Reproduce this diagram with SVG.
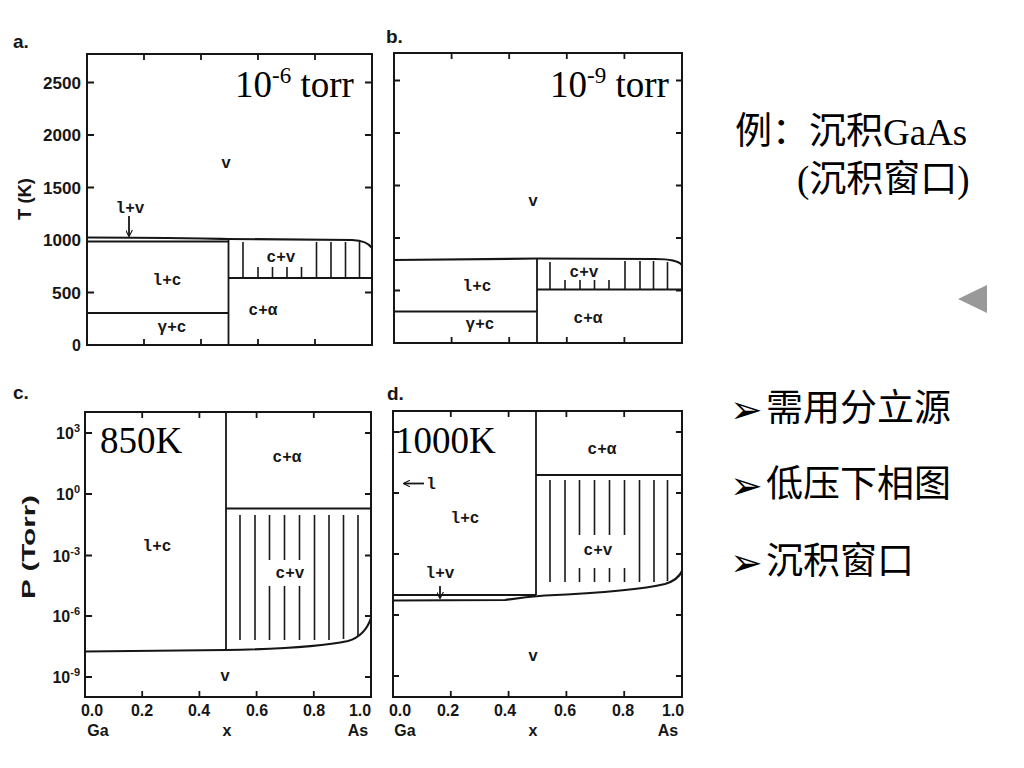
<svg xmlns="http://www.w3.org/2000/svg" width="1024" height="768" viewBox="0 0 1024 768">
<defs>
<style>
.ax{fill:none;stroke:#161616;stroke-width:2}
.tick{stroke:#161616;stroke-width:1.8}
.ln{fill:none;stroke:#161616;stroke-width:1.8}
.cv{fill:none;stroke:#161616;stroke-width:2.2}
.hat{stroke:#1a1a1a;stroke-width:1.6}
.tkr{font-family:"Liberation Sans",Arial,sans-serif;font-weight:bold;font-size:16px;fill:#161616;text-anchor:end}
.tkm{font-family:"Liberation Sans",Arial,sans-serif;font-weight:bold;font-size:16px;fill:#161616;text-anchor:middle}
.pl{font-family:"Liberation Sans",Arial,sans-serif;font-weight:bold;font-size:19px;fill:#161616}
.al{font-family:"Liberation Sans",Arial,sans-serif;font-weight:bold;font-size:18px;fill:#161616;text-anchor:middle}
.rg{font-family:"Liberation Mono","Courier New",monospace;font-weight:bold;font-size:16px;fill:#161616;text-anchor:middle}
.big{font-family:"Liberation Serif","Times New Roman",serif;font-size:37px;fill:#000}
.cn{font-family:"Liberation Serif","Noto Sans CJK SC",serif;font-size:37px;fill:#000}
.bl{font-family:"DejaVu Sans",sans-serif;font-size:39px;fill:#000}
</style>
<marker id="ah" viewBox="0 0 10 10" refX="9" refY="5" markerWidth="7" markerHeight="7" orient="auto" markerUnits="userSpaceOnUse">
<path d="M0,0 L10,5 L0,10" fill="none" stroke="#161616" stroke-width="1.6"/>
</marker>
</defs>
<rect width="1024" height="768" fill="#fff"/>

<!-- Panel a -->
<g id="panel-a">
<text class="pl" x="13" y="48">a.</text>
<rect class="ax" x="87" y="54" width="285" height="291"/>
<g class="tick">
<path d="M144,54v6M201,54v6M258,54v6M315,54v6M144,345v-6M201,345v-6M258,345v-6M315,345v-6"/>
<path d="M87,82.5h7M87,135h7M87,187.5h7M87,292.5h7M372,82.5h-7M372,135h-7M372,187.5h-7M372,292.5h-7"/>
</g>
<text class="tkr" x="81" y="88.5" textLength="38" lengthAdjust="spacingAndGlyphs">2500</text>
<text class="tkr" x="81" y="141" textLength="38" lengthAdjust="spacingAndGlyphs">2000</text>
<text class="tkr" x="81" y="193.5" textLength="38" lengthAdjust="spacingAndGlyphs">1500</text>
<text class="tkr" x="81" y="246" textLength="38" lengthAdjust="spacingAndGlyphs">1000</text>
<text class="tkr" x="81" y="298.5" textLength="29" lengthAdjust="spacingAndGlyphs">500</text>
<text class="tkr" x="81" y="351">0</text>
<text class="al" transform="translate(31,199) rotate(-90)" textLength="42" lengthAdjust="spacingAndGlyphs">T (K)</text>
<path class="cv" d="M87,237.5 C150,237.5 200,238.5 228,239 L352,240 Q367,240.5 372,248"/>
<path class="ln" d="M87,241.5 L228.5,241.5"/>
<path class="ln" d="M228.5,240 V345 M228.5,278 H372 M87,313 H228.5"/>
<g class="hat">
<path d="M243,242V277M316.5,242V277M331,242V277M345.5,242V277M359.5,242V277"/>
<path d="M258,267V277M272.5,267V277M287,267V277M301.5,267V277"/>
</g>
<path class="ln" d="M129,216 V236" marker-end="url(#ah)" stroke-width="1.4"/>
<text class="rg" x="130" y="213">l+v</text>
<text class="rg" x="226" y="168">v</text>
<text class="rg" x="167" y="285">l+c</text>
<text class="rg" x="281" y="262">c+v</text>
<text class="rg" x="263" y="315">c+α</text>
<text class="rg" x="172" y="332">γ+c</text>
<text class="big" x="235" y="97">10<tspan font-size="23" dy="-14">-6</tspan><tspan dy="14"> torr</tspan></text>
</g>

<!-- Panel b -->
<g id="panel-b">
<text class="pl" x="386" y="43">b.</text>
<rect class="ax" x="394" y="53" width="288" height="290"/>
<g class="tick">
<path d="M451.6,53v6M509.2,53v6M566.8,53v6M624.4,53v6M451.6,343v-6M509.2,343v-6M566.8,343v-6M624.4,343v-6"/>
<path d="M394,80.5h6M394,133h6M394,185.5h6M394,238h6M394,290.5h6M682,80.5h-6M682,133h-6M682,185.5h-6M682,238h-6M682,290.5h-6"/>
</g>
<path class="cv" d="M394,260 C450,259.5 500,258.5 537,258.5 L655,259 Q677,259 682,265"/>
<path class="ln" d="M537,259 V343 M537,289.5 H682 M394,311.5 H537"/>
<g class="hat">
<path d="M550,262V289M625,261V289M640,261V289M653.5,261V289M667.5,262V289"/>
<path d="M565,280V289M580,280V289M594.5,280V289M609,280V289"/>
</g>
<text class="rg" x="533" y="206">v</text>
<text class="rg" x="584" y="277">c+v</text>
<text class="rg" x="477" y="291">l+c</text>
<text class="rg" x="480" y="329">γ+c</text>
<text class="rg" x="588" y="323">c+α</text>
<text class="big" x="550" y="97">10<tspan font-size="23" dy="-14">-9</tspan><tspan dy="14"> torr</tspan></text>
</g>

<!-- Panel c -->
<g id="panel-c">
<text class="pl" x="13" y="399">c.</text>
<rect class="ax" x="85" y="412" width="286" height="285"/>
<g class="tick">
<path d="M142.2,412v6M199.4,412v6M256.6,412v6M313.8,412v6M142.2,697v-6M199.4,697v-6M256.6,697v-6M313.8,697v-6"/>
<path d="M85,433h7M85,494h7M85,555.5h7M85,616h7M85,677h7M371,433h-6M371,494h-6M371,555.5h-6M371,616h-6M371,677h-6"/>
</g>
<text class="tkr" x="80" y="439">10<tspan font-size="11" dy="-7">3</tspan></text>
<text class="tkr" x="80" y="500">10<tspan font-size="11" dy="-7">0</tspan></text>
<text class="tkr" x="80" y="561.5">10<tspan font-size="11" dy="-7">-3</tspan></text>
<text class="tkr" x="80" y="622">10<tspan font-size="11" dy="-7">-6</tspan></text>
<text class="tkr" x="80" y="683">10<tspan font-size="11" dy="-7">-9</tspan></text>
<text class="al" transform="translate(35,547) rotate(-90)" textLength="104" lengthAdjust="spacingAndGlyphs">P (Torr)</text>
<text class="tkm" x="92" y="716">0.0</text>
<text class="tkm" x="142" y="716">0.2</text>
<text class="tkm" x="199" y="716">0.4</text>
<text class="tkm" x="257" y="716">0.6</text>
<text class="tkm" x="314" y="716">0.8</text>
<text class="tkm" x="360" y="716">1.0</text>
<text class="tkm" x="98" y="736">Ga</text>
<text class="tkm" x="227" y="736">x</text>
<text class="tkm" x="358" y="736">As</text>
<path class="ln" d="M226,412 V650 M226,508.5 H371"/>
<path class="cv" d="M85,651.5 L226,650 C280,649 325,646 348,641 Q365,636 371,618"/>
<g class="hat">
<path d="M240,515V640M255,515V640M314.5,515V640M329,515V640M343.5,515V639M358,515V636"/>
<path d="M269.5,515V560M284.5,515V560M299.5,515V560M269.5,586V640M284.5,586V640M299.5,586V640"/>
</g>
<text class="rg" x="287" y="462">c+α</text>
<text class="rg" x="157" y="551">l+c</text>
<text class="rg" x="290" y="578">c+v</text>
<text class="rg" x="225" y="681">v</text>
<text class="big" x="100" y="453">850K</text>
</g>

<!-- Panel d -->
<g id="panel-d">
<text class="pl" x="387" y="400">d.</text>
<rect class="ax" x="393" y="411" width="289" height="286"/>
<g class="tick">
<path d="M450.8,411v6M508.6,411v6M566.4,411v6M624.2,411v6M450.8,697v-6M508.6,697v-6M566.4,697v-6M624.2,697v-6"/>
<path d="M393,432h6M393,493h6M393,554h6M393,615h6M393,676h6M682,432h-6M682,493h-6M682,554h-6M682,615h-6M682,676h-6"/>
</g>
<text class="tkm" x="400" y="716">0.0</text>
<text class="tkm" x="448" y="716">0.2</text>
<text class="tkm" x="505" y="716">0.4</text>
<text class="tkm" x="565" y="716">0.6</text>
<text class="tkm" x="623" y="716">0.8</text>
<text class="tkm" x="673" y="716">1.0</text>
<text class="tkm" x="405" y="736">Ga</text>
<text class="tkm" x="533" y="736">x</text>
<text class="tkm" x="668" y="736">As</text>
<path class="ln" d="M536,411 V595 M536,475 H682 M393,595 H536"/>
<path class="cv" d="M393,600.5 L505,600 C520,597.5 530,596.5 545,595.5 C600,593 645,589 665,584 Q678,580 682,571"/>
<g class="hat">
<path d="M550,480V582M565,480V582M639.5,480V582M654,480V582M667.5,480V581"/>
<path d="M579.5,480V535M594.5,480V535M609.5,480V535M624.5,480V535M579.5,568V582M594.5,568V582M609.5,568V582M624.5,568V582"/>
</g>
<path class="ln" d="M440,586 V598" marker-end="url(#ah)" stroke-width="1.4"/>
<text class="rg" x="440" y="578">l+v</text>
<path class="ln" d="M424,483.5 H404" marker-end="url(#ah)" stroke-width="1.4"/>
<text class="rg" x="431" y="489">l</text>
<text class="rg" x="465" y="523">l+c</text>
<text class="rg" x="602" y="454">c+α</text>
<text class="rg" x="598" y="555">c+v</text>
<text class="rg" x="533" y="661">v</text>
<text class="big" x="395" y="453">1000K</text>
</g>

<!-- Right-side text -->
<g id="notes">
<text class="cn" x="735" y="144">例：沉积</text>
<text class="cn" x="883" y="145" font-size="41">GaAs</text>
<text class="cn" x="797" y="192">(沉积窗口)</text>
<polygon points="958,299 987,285 987,313" fill="#999"/>
<text class="bl" x="730" y="423">➢</text>
<text class="cn" x="766" y="421">需用分立源</text>
<text class="bl" x="730" y="499">➢</text>
<text class="cn" x="766" y="497">低压下相图</text>
<text class="bl" x="730" y="576">➢</text>
<text class="cn" x="766" y="574">沉积窗口</text>
</g>
</svg>
